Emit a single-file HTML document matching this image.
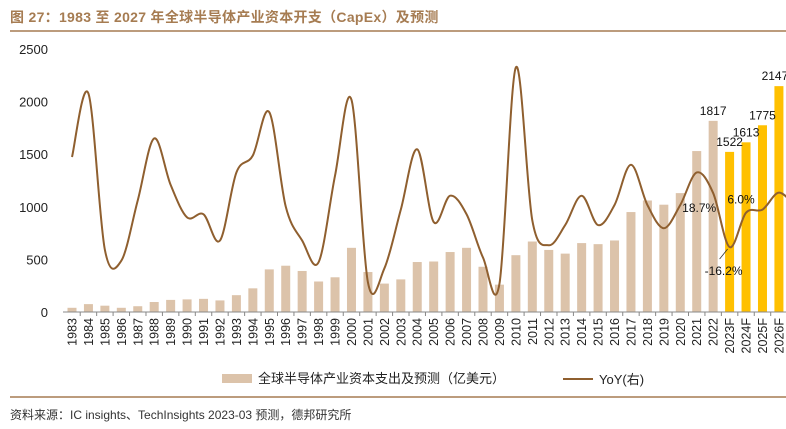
<!DOCTYPE html>
<html><head><meta charset="utf-8"><style>
body{margin:0;width:786px;height:429px;overflow:hidden;background:#fff;font-family:"Liberation Sans","Noto Sans CJK SC",sans-serif}
.t{position:absolute;left:10px;top:7px;font-size:14px;font-weight:bold;color:#a67c52;letter-spacing:0.3px}
</style></head><body>
<div class="t">图 27：1983 至 2027 年全球半导体产业资本开支（CapEx）及预测</div>
<svg id="c" width="786" height="429" style="position:absolute;left:0;top:0">
<line x1="10" y1="31" x2="786" y2="31" stroke="#a67c52" stroke-width="1.5"/>
<line x1="10" y1="397" x2="786" y2="397" stroke="#a67c52" stroke-width="1.5"/>
<text x="10" y="419" font-size="12" fill="#333">资料来源：IC insights、TechInsights 2023-03 预测，德邦研究所</text>
<g>
<rect x="222" y="374" width="30" height="9" fill="#dcc3aa"/>
<text x="258" y="383" font-size="13" fill="#222">全球半导体产业资本支出及预测（亿美元）</text>
<line x1="563" y1="379" x2="593" y2="379" stroke="#8f5f2f" stroke-width="2"/>
<text x="599" y="384" font-size="13" fill="#222">YoY(右)</text>
</g>
<g id="plot"></g>
</svg>
<script>
const categories=["1983","1984","1985","1986","1987","1988","1989","1990","1991","1992","1993","1994","1995","1996","1997","1998","1999","2000","2001","2002","2003","2004","2005","2006","2007","2008","2009","2010","2011","2012","2013","2014","2015","2016","2017","2018","2019","2020","2021","2022","2023F","2024F","2025F","2026F","2027F"];
const capex=[40,75,60,40,55,95,115,120,125,110,160,225,405,440,390,290,330,610,380,270,310,475,480,570,610,430,260,540,670,590,555,655,645,680,950,1060,1020,1130,1530,1817,1522,1613,1775,2147,2140];
const yoy=[42,83,-18,-25,14,54,24,3,5,-12,32,43,71,10,-12,-26,30,79,-39,-30,8,47,0,17,5,-23,-40,100,1,-15,-2,17,-2,11,37,11,-4,11,32,18.7,-16.2,6.0,8,19,10];
const yTicks=[0,500,1000,1500,2000,2500];
const forecastFrom=40;
const labeledBars=[39,40,41,42,43];
const labeledYoy=[39,40,41];
const NS="http://www.w3.org/2000/svg";
const g=document.getElementById('plot');
function mk(t,a){const e=document.createElementNS(NS,t);for(const k in a)e.setAttribute(k,a[k]);g.appendChild(e);return e;}
const x0=72,dx=16.44,yZero=312,yTop=49;
const xs=i=>x0+i*dx;
const yL=v=>yZero-(v/2500)*(yZero-yTop);
const yR=v=>222-v*1.547;
yTicks.forEach(v=>{const t=mk('text',{x:48,y:yL(v)+5,'text-anchor':'end','font-size':13,fill:'#222'});t.textContent=v;

});
capex.forEach((v,i)=>{const r=mk('rect',{x:xs(i)-4.5,y:yL(v),width:9,height:yZero-yL(v),fill:i>=forecastFrom?'#ffc000':'#dcc3aa'});

});
const ax=mk('line',{x1:63,y1:yZero,x2:786,y2:yZero,stroke:'#888','stroke-width':1});


categories.forEach((c,i)=>{const tk=mk('line',{x1:xs(i)+dx/2,y1:yZero,x2:xs(i)+dx/2,y2:yZero+4,stroke:'#888'});


const t=mk('text',{x:0,y:0,'font-size':12.5,fill:'#222','text-anchor':'end',transform:`translate(${xs(i)+4.5},${yZero+6}) rotate(-90)`});t.textContent=c;

});
const pts=yoy.map((v,i)=>[xs(i),yR(v)]);
let d=`M${pts[0][0]},${pts[0][1]}`;
for(let i=0;i<pts.length-1;i++){const p0=pts[i-1]||pts[i],p1=pts[i],p2=pts[i+1],p3=pts[i+2]||p2;
d+=` C${p1[0]+(p2[0]-p0[0])/6},${p1[1]+(p2[1]-p0[1])/6} ${p2[0]-(p3[0]-p1[0])/6},${p2[1]-(p3[1]-p1[1])/6} ${p2[0]},${p2[1]}`;}
const ln=mk('path',{d:d,fill:'none',stroke:'#8f5f2f','stroke-width':2});


labeledBars.forEach(i=>{const xp=i===43?xs(i)-4:xs(i);const t=mk('text',{x:xp,y:yL(capex[i])-6,'text-anchor':'middle','font-size':12,fill:'#111'});t.textContent=capex[i];

});
const offs=[[-14,19],[-6,28],[-5,-9]];
labeledYoy.forEach((i,k)=>{const t=mk('text',{x:xs(i)+offs[k][0],y:yR(yoy[i])+offs[k][1],'text-anchor':'middle','font-size':12,fill:'#111'});t.textContent=yoy[i].toFixed(1)+'%';

});
const ld=mk('line',{x1:xs(40)-2,y1:yR(yoy[40])+2,x2:xs(40)-10,y2:yR(yoy[40])+12,stroke:'#333','stroke-width':0.8});


</script>
</body></html>
